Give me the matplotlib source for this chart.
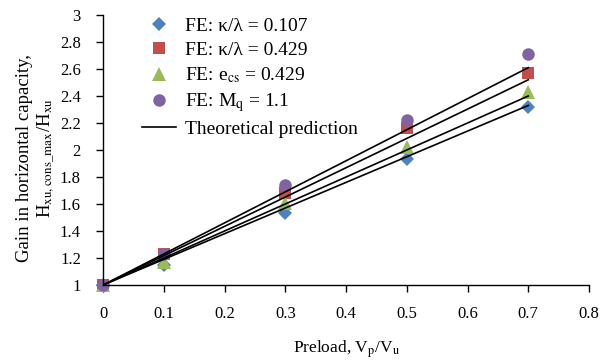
import matplotlib
matplotlib.use("Agg")
import matplotlib.pyplot as plt
from matplotlib.lines import Line2D

plt.rcParams['font.family'] = ['Liberation Serif', 'DejaVu Serif']
plt.rcParams['mathtext.fontset'] = 'stix'

preload = [0, 0.1, 0.3, 0.5, 0.7]
fe_kl_0107 = [1.0, 1.15, 1.53, 1.93, 2.32]
fe_kl_0429 = [1.0, 1.23, 1.68, 2.16, 2.57]
fe_ecs_0429 = [1.0, 1.17, 1.61, 2.02, 2.43]
fe_mq_11 = [1.0, 1.23, 1.74, 2.22, 2.71]

theory_x = [0, 0.7]
theory_lines = [
    [1.0, 2.61],
    [1.0, 2.52],
    [1.0, 2.40],
    [1.0, 2.33],
]

labels = [r"FE: κ/λ = 0.107", r"FE: κ/λ = 0.429", r"FE: e$_{\mathrm{cs}}$ = 0.429",
          r"FE: M$_{\mathrm{q}}$ = 1.1", "Theoretical prediction"]
colors = ['#4F81BD', '#C0504D', '#9BBB59', '#8064A2']
markers = ['D', 's', '^', 'o']
msizes = [7.2, 8.5, 10, 9]

fig = plt.figure(figsize=(6.1, 3.63), dpi=100)
ax = fig.add_axes([0.169, 0.2149, 0.7966, 0.7438])

series = [fe_kl_0107, fe_kl_0429, fe_ecs_0429, fe_mq_11]
handles = []
for s, c, m, ms, lab in zip(series, colors, markers, msizes, labels[:4]):
    ax.plot(preload, s, linestyle='none', marker=m, color=c, markersize=ms,
            markeredgewidth=0, zorder=2, clip_on=False)
    handles.append(Line2D([], [], linestyle='none', marker=m, color=c,
                          markersize=ms, markeredgewidth=0, label=lab))
for t in theory_lines:
    ax.plot(theory_x, t, color='black', linewidth=1.2, zorder=3)
handles.append(Line2D([], [], color='black', linewidth=1.2, label=labels[4]))

ax.set_xlim(0, 0.8)
ax.set_ylim(1, 3)
ax.set_xticks([0, 0.1, 0.2, 0.3, 0.4, 0.5, 0.6, 0.7, 0.8])
ax.set_xticklabels(['0', '0.1', '0.2', '0.3', '0.4', '0.5', '0.6', '0.7', '0.8'])
ax.set_yticks([1, 1.2, 1.4, 1.6, 1.8, 2, 2.2, 2.4, 2.6, 2.8, 3])
ax.set_yticklabels(['1', '1.2', '1.4', '1.6', '1.8', '2', '2.2', '2.4', '2.6', '2.8', '3'])
ax.spines['top'].set_visible(False)
ax.spines['right'].set_visible(False)
for sp in ['left', 'bottom']:
    ax.spines[sp].set_linewidth(1.0)
ax.tick_params(direction='out', length=5, width=1.0, labelsize=12)
ax.tick_params(axis='y', pad=11)
ax.tick_params(axis='x', pad=10)

ax.set_xlabel(r"Preload, V$_{\mathrm{p}}$/V$_{\mathrm{u}}$", fontsize=12.5, labelpad=12)
ax.set_ylabel("Gain in horizontal capacity,\n" +
              r"H$_{\mathrm{xu,cons\_max}}$/H$_{\mathrm{xu}}$", fontsize=13.5,
              linespacing=1.25)
ax.yaxis.set_label_coords(-0.094, 0.47)

ax.legend(handles=handles, loc='upper left', frameon=False, fontsize=14,
          bbox_to_anchor=(0.08, 0.99), handlelength=1.75, handletextpad=0.45,
          labelspacing=0.32, borderaxespad=0, borderpad=0)

fig.savefig('out.png', dpi=100)
